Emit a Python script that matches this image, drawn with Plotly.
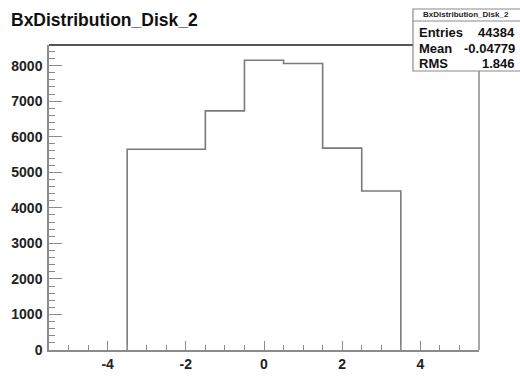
import plotly.graph_objects as go

# Histogram contents: unit-width bins centred on integers
bin_centers = [-3, -2, -1, 0, 1, 2, 3]
bin_counts = [5646, 5647, 6728, 8152, 8060, 5680, 4471]

hist_name = "BxDistribution_Disk_2"
stat_labels = ["Entries", "Mean", "RMS"]
stat_values = ["44384", "-0.04779", "1.846"]

x_ticks = [-4, -2, 0, 2, 4]
y_ticks = [0, 1000, 2000, 3000, 4000, 5000, 6000, 7000, 8000]

W, H = 520, 378
L, R, T, B = 49, 479, 45, 350


def px(x):
    return (x - L) / (R - L)


def py(y):
    return (B - y) / (B - T)


# step outline of the histogram built from bin edges
edges = [c - 0.5 for c in bin_centers] + [bin_centers[-1] + 0.5]
xs = [edges[0]] + edges[:-1] + [edges[-1]]
ys = [0] + bin_counts + [0]

fig = go.Figure()
fig.add_trace(go.Scatter(
    x=xs, y=ys, mode="lines", line_shape="hv",
    line=dict(color="#7a7a7a", width=1.6), hoverinfo="skip", showlegend=False,
))

axis_font = dict(family="Liberation Sans, Arial, sans-serif", size=14,
                 color="#222222", weight="bold")

fig.update_layout(
    width=W, height=H,
    margin=dict(l=L, r=W - R, t=T, b=H - B),
    paper_bgcolor="white", plot_bgcolor="white",
    showlegend=False,
    xaxis=dict(
        range=[-5.5, 5.5], tickvals=x_ticks, ticktext=[str(v) for v in x_ticks],
        ticks="inside", ticklen=9, tickwidth=1, tickcolor="#8a8a8a",
        minor=dict(dtick=0.5, tick0=0, ticks="inside", ticklen=5, tickcolor="#8a8a8a", tickwidth=1),
        showgrid=False, zeroline=False, showline=True, linecolor="#8a8a8a", linewidth=1.5,
        tickfont=axis_font, ticklabelstandoff=0, automargin=False,
    ),
    yaxis=dict(
        range=[0, 8580], tickvals=y_ticks, ticktext=[str(v) for v in y_ticks],
        ticks="inside", ticklen=13, tickwidth=1, tickcolor="#8a8a8a",
        minor=dict(dtick=200, tick0=0, ticks="inside", ticklen=6, tickcolor="#8a8a8a", tickwidth=1),
        showgrid=False, zeroline=False, showline=True, linecolor="#8a8a8a", linewidth=1.5,
        tickfont=axis_font, ticklabelstandoff=2, automargin=False,
    ),
)

# frame: top and right edges
fig.add_shape(type="line", xref="paper", yref="paper", x0=0, x1=1, y0=1, y1=1,
              line=dict(color="#555555", width=2), layer="above")
fig.add_shape(type="line", xref="paper", yref="paper", x0=1, x1=1, y0=0, y1=1,
              line=dict(color="#8a8a8a", width=1.5), layer="above")

# statistics box
bx0, bx1, by0, by1 = 413, 522, 9, 71
fig.add_shape(type="rect", xref="paper", yref="paper",
              x0=px(bx0), x1=px(bx1), y0=py(by1), y1=py(by0),
              line=dict(color="#8a8a8a", width=1.2), fillcolor="white", layer="above")
fig.add_shape(type="line", xref="paper", yref="paper",
              x0=px(bx0), x1=px(bx1), y0=py(21), y1=py(21),
              line=dict(color="#8a8a8a", width=1), layer="above")

fig.add_annotation(xref="paper", yref="paper", x=px(466), y=py(15),
                   text="<b>" + hist_name + "</b>", showarrow=False,
                   xanchor="center", yanchor="middle",
                   font=dict(family="Liberation Sans, Arial, sans-serif", size=8, color="#222222"))

stat_y = [32, 48, 63]
stat_font = dict(family="Liberation Sans, Arial, sans-serif", size=13, color="#111111")
for lab, val, yy in zip(stat_labels, stat_values, stat_y):
    fig.add_annotation(xref="paper", yref="paper", x=px(417), y=py(yy),
                       text="<b>" + lab + "</b>", showarrow=False,
                       xanchor="left", yanchor="middle", font=stat_font)
    fig.add_annotation(xref="paper", yref="paper", x=px(517), y=py(yy),
                       text="<b>" + val + "</b>", showarrow=False,
                       xanchor="right", yanchor="middle", font=stat_font)

# histogram title
fig.add_annotation(xref="paper", yref="paper", x=px(9), y=py(20),
                   text="<b>" + hist_name + "</b>", showarrow=False,
                   xanchor="left", yanchor="middle",
                   font=dict(family="Liberation Sans, Arial, sans-serif", size=17.5, color="#111111"))

fig.write_html("out.html")
